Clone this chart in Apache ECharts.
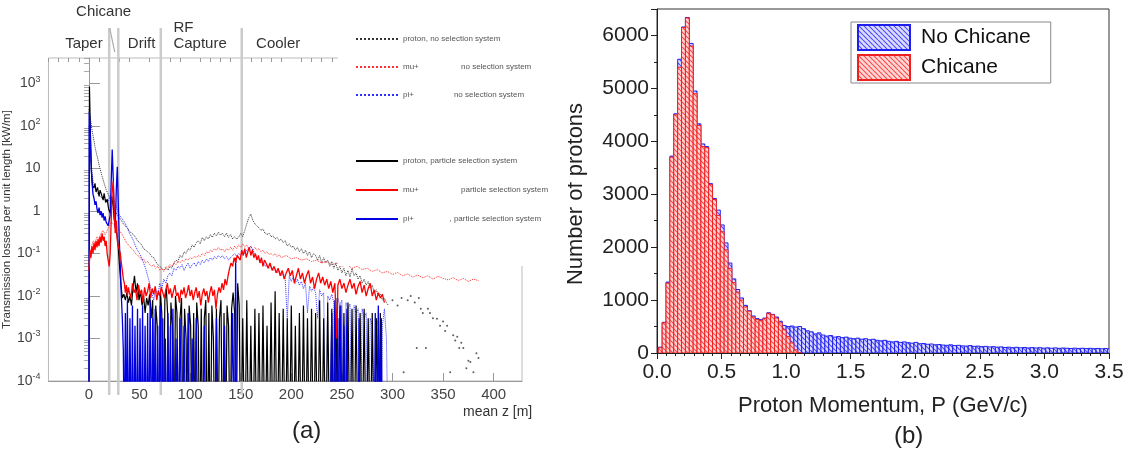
<!DOCTYPE html>
<html><head><meta charset="utf-8">
<script src="https://cdn.jsdelivr.net/npm/echarts@6.0.0/dist/echarts.min.js"></script>
<style>html,body{margin:0;padding:0;background:#fff}#c{width:1131px;height:457px}</style>
</head><body><div id="c"></div><script>
// ---------------- Panel (a) data : [mean z (m), loss (kW/m)] ----------------
const LOW = 1e-6; // value below the axis floor (drawn off the bottom)
const protonNoSel = [[0,250],[1,180],[2,120],[3,80],[4,60],[5,45],[6,32],[7,25],[8,20],[9,16],[10,12],[11,10],[12,8],[13,6.5],[14,5.5],[15,4.5],[16,3.8],[17,3.2],[18,2.8],[19,2.5],[20,2.2],[21,2],[22,1.8],[23,1.6],[24,1.4],[25,1.2],[26,1.0],[27,0.9],[28,0.8],[30,0.7],[32,0.6],[34,0.5],[36,0.44],[38,0.4],[40,0.34],[42,0.3],[44,0.28],[46,0.24],[48,0.2],[50,0.18],[52,0.16],[54,0.13],[56,0.12],[58,0.11],[60,0.1],[62,0.085],[64,0.08],[66,0.065],[68,0.055],[70,0.05],[72,0.045],[74,0.04],[76,0.045],[78,0.04],[80,0.05],[82,0.045],[84,0.06],[86,0.07],[88,0.065],[90,0.09],[92,0.08],[94,0.11],[96,0.1],[98,0.13],[100,0.12],[102,0.16],[104,0.14],[106,0.18],[108,0.2],[110,0.17],[112,0.24],[114,0.2],[116,0.25],[118,0.22],[120,0.28],[122,0.24],[124,0.3],[126,0.26],[128,0.32],[130,0.27],[132,0.3],[134,0.25],[136,0.3],[138,0.24],[140,0.28],[142,0.22],[144,0.25],[146,0.22],[148,0.24],[150,0.3],[152,0.25],[154,0.35],[156,0.5],[158,0.7],[160,0.85],[162,0.6],[164,0.5],[166,0.45],[168,0.4],[170,0.35],[172,0.38],[174,0.3],[176,0.28],[178,0.3],[180,0.25],[182,0.26],[184,0.22],[186,0.24],[188,0.2],[190,0.22],[192,0.18],[194,0.2],[196,0.15],[198,0.17],[200,0.14],[202,0.15],[204,0.12],[206,0.14],[208,0.11],[210,0.13],[212,0.1],[214,0.12],[216,0.09],[218,0.11],[220,0.08],[222,0.1],[224,0.09],[226,0.07],[228,0.09],[230,0.06],[232,0.08],[234,0.06],[236,0.07],[238,0.05],[240,0.065],[242,0.045],[244,0.06],[246,0.04],[248,0.05],[250,0.035],[252,0.045],[254,0.03],[256,0.04],[258,0.028],[260,0.045],[262,0.03],[264,0.035],[266,0.025],[268,0.03],[270,0.02],[272,0.025],[274,0.018],[276,0.022],[278,0.015],[280,0.018],[282,0.012],[284,0.014],[286,0.01],[288,0.011],[290,0.008],[292,0.009],[294,0.007],[296,0.006]];
const protonNoSelTail = [[300,0.008],[305,0.006],[309,0.009],[311,1.6e-4],[315,0.008],[318,0.01],[322,0.007],[324,6e-4],[326,0.009],[328,0.005],[330,0.004],[333,6e-4],[335,0.005],[337,0.004],[340,0.003],[344,0.0029],[347,0.002],[350,0.0025],[352,0.0015],[354,0.002],[357,1.6e-4],[360,0.0012],[362,0.0009],[364,0.0011],[366,0.0006],[368,0.0008],[370,0.0006],[373,2e-4],[375,0.0003],[377,0.00028],[380,1.6e-4],[383,0.00045],[385,0.00035]];
const muNoSel = [[0,0.05],[2,0.12],[4,0.2],[6,0.18],[8,0.25],[10,0.22],[12,0.3],[14,0.35],[16,0.28],[18,0.35],[20,0.45],[22,0.55],[24,0.5],[26,0.45],[28,0.4],[30,0.35],[32,0.3],[34,0.25],[36,0.2],[38,0.17],[40,0.15],[42,0.13],[44,0.12],[46,0.1],[48,0.09],[50,0.085],[52,0.07],[54,0.075],[56,0.06],[58,0.065],[60,0.055],[62,0.05],[64,0.055],[66,0.045],[68,0.05],[70,0.04],[72,0.045],[74,0.038],[76,0.05],[78,0.045],[80,0.055],[82,0.05],[84,0.06],[86,0.055],[88,0.065],[90,0.06],[92,0.07],[94,0.065],[96,0.075],[98,0.07],[100,0.08],[102,0.075],[104,0.085],[106,0.08],[108,0.09],[110,0.085],[112,0.1],[114,0.09],[116,0.11],[118,0.1],[120,0.12],[122,0.11],[124,0.13],[126,0.12],[128,0.14],[130,0.12],[132,0.13],[134,0.11],[136,0.13],[138,0.12],[140,0.14],[142,0.12],[144,0.15],[146,0.13],[148,0.16],[150,0.14],[152,0.17],[154,0.14],[156,0.16],[158,0.13],[160,0.15],[162,0.12],[164,0.14],[166,0.12],[168,0.13],[170,0.11],[172,0.12],[174,0.1],[176,0.11],[178,0.095],[180,0.1],[182,0.09],[184,0.1],[186,0.085],[188,0.095],[190,0.08],[195,0.09],[200,0.075],[205,0.08],[210,0.07],[215,0.075],[220,0.065],[225,0.07],[230,0.06],[235,0.065],[240,0.055],[245,0.06],[250,0.05],[255,0.055],[260,0.045],[265,0.05],[270,0.042],[275,0.045],[280,0.038],[285,0.042],[290,0.035],[295,0.038],[300,0.032],[305,0.036],[310,0.03],[315,0.033],[320,0.028],[325,0.031],[330,0.027],[335,0.03],[340,0.025],[345,0.029],[350,0.026],[355,0.024],[360,0.027],[365,0.023],[370,0.026],[375,0.022],[380,0.025],[385,0.023]];
const piNoSel = [[0,100],[1,40],[2,15],[3,8],[4,5],[5,4],[6,3.5],[7,3],[8,2.8],[9,2.5],[10,2.6],[11,2.2],[12,2.4],[13,2.0],[14,2.2],[15,1.9],[16,2.0],[17,1.8],[18,1.9],[19,1.7],[20,2.0],[21,2.2],[22,2.4],[23,2.2],[24,2.0],[25,1.8],[26,1.5],[27,1.3],[28,1.1],[29,0.9],[30,0.8],[32,0.7],[34,0.6],[36,0.5],[38,0.4],[40,0.3],[42,0.25],[44,0.2],[46,0.15],[48,0.12],[50,0.1],[52,0.08],[54,0.06],[56,0.045],[58,0.03],[60,0.02],[62,0.012],[64,0.008],[66,0.015],[68,0.01],[70,0.02],[72,0.015],[74,0.025],[76,0.02],[78,0.03],[80,0.035],[82,0.03],[84,0.045],[86,0.04],[88,0.05],[90,0.045],[92,0.055],[94,0.04],[96,0.05],[98,0.06],[100,0.045],[102,0.055],[104,0.06],[106,0.05],[108,0.065],[110,0.055],[112,0.07],[114,0.06],[116,0.075],[118,0.065],[120,0.08],[122,0.07],[124,0.085],[126,0.075],[128,0.09],[130,0.08],[132,0.09],[134,0.075],[136,0.085],[138,0.07],[140,0.08],[142,0.09],[144,0.1],[146,0.085],[148,0.1],[150,0.09],[152,0.11],[154,0.1],[156,0.12],[158,0.13],[160,0.15],[162,0.12],[164,0.1],[166,0.08],[168,0.07],[170,0.06],[172,0.065],[174,0.05],[176,0.055],[178,0.045],[180,0.05],[182,0.04],[184,0.045],[186,0.035],[188,0.04],[190,0.03],[192,0.035],[194,0.025],[196,0.003],[198,0.03],[200,0.022],[202,0.028],[204,0.02],[206,0.025],[208,0.018],[210,0.022],[212,0.015],[214,0.02],[216,0.004],[218,0.017],[220,0.013],[222,0.016],[224,0.012],[226,0.003],[228,0.014],[230,0.01],[232,0.012],[234,LOW],[236,0.01],[238,0.008],[240,0.011],[242,0.007],[244,LOW],[246,0.009],[248,0.006],[250,0.008],[252,LOW],[254,0.007],[256,0.005],[258,0.0065],[260,LOW],[262,0.006],[264,0.004],[266,0.005],[268,LOW],[270,0.005],[272,0.003],[274,0.004],[276,LOW],[278,0.003],[280,0.002],[282,LOW],[284,0.003],[286,0.002],[288,LOW],[290,0.002],[292,0.005],[294,0.001],[296,LOW]];
const protonSel = [[-0.1,LOW],[0.5,850],[1.5,60],[2.5,8],[3.5,4],[5,3.5],[6,4.5],[7,2.8],[8.5,3.6],[10,2.2],[11,3.1],[12.5,2.4],[14,1.8],[15,2.6],[16.5,1.6],[18,1.9],[19.5,1.1],[21,0.9],[22.5,2.2],[24,1.3],[25.5,0.5],[27,0.35],[28.5,0.2],[30,0.06],[31.5,0.02],[33,0.009],[34.5,0.011],[36,0.008],[37.5,0.012],[39,0.007],[40.5,0.01],[42,0.006],[43.5,0.015],[45,0.03],[46.5,0.012],[48,0.02],[49.5,0.008],[51,0.013],[52.5,0.006],[54,0.01],[55.5,0.004],[57,0.009],[58.5,0.006],[60,0.011],[61.5,0.003],[63,0.008],[64.5,LOW],[66,0.006],[67.5,0.002],[69,LOW],[70.5,0.012],[72,0.004],[73.5,LOW],[75,0.008],[76.5,0.015],[78,0.003],[79.5,LOW],[81,0.007],[82.5,0.002],[84,LOW],[85.5,0.01],[87,0.004],[88.5,LOW],[90,0.003],[91.5,0.009],[93,LOW],[94.5,0.005],[96,0.001],[97.5,LOW],[99,0.006],[100.5,0.002],[102,LOW],[103.5,0.004],[105,LOW],[106.5,0.007],[108,0.002],[109.5,LOW],[111,0.005],[112.5,LOW],[114,0.003],[115.5,0.008],[117,LOW],[118.5,0.004],[120,LOW],[121.5,0.006],[123,0.001],[124.5,LOW],[126,0.005],[127.5,LOW],[129,0.003],[130.5,0.008],[132,LOW],[133.5,0.004],[135,LOW],[136.5,0.006],[138,0.002],[139.5,LOW],[141,0.005],[142.5,0.012],[144,0.004],[145.5,LOW],[147,0.02],[148.5,0.006],[150,LOW],[152,0.003],[154,LOW],[156,0.008],[158,LOW],[160,0.002],[162,LOW],[164,0.005],[166,LOW],[168,0.004],[170,LOW],[172,0.006],[174,LOW],[176,0.002],[178,LOW],[180,0.007],[182,LOW],[184,0.013],[186,LOW],[188,0.004],[190,LOW],[192,0.005],[194,LOW],[196,0.003],[198,LOW],[200,0.006],[202,LOW],[204,0.002],[206,LOW],[208,0.004],[210,LOW],[212,0.006],[214,LOW],[216,0.003],[218,LOW],[220,0.005],[222,LOW],[224,0.004],[226,LOW],[228,0.008],[230,LOW],[232,0.003],[234,LOW],[236,0.007],[238,LOW],[240,0.005],[242,LOW],[244,0.009],[246,LOW],[248,0.006],[250,LOW],[252,0.004],[254,LOW],[256,0.007],[258,LOW],[260,0.005],[262,LOW],[264,0.006],[266,LOW],[268,0.004],[270,LOW],[272,0.005],[274,LOW],[276,0.003],[278,LOW],[280,0.004],[282,LOW],[284,0.003],[286,LOW],[288,0.004],[290,LOW]];
const piSel = [[-0.1,LOW],[0.3,220],[1,120],[2,15],[3,5],[4,2.5],[5,2.0],[6,1.4],[7,1.7],[8,1.1],[9,0.9],[10,1.2],[11,0.8],[12,1.0],[13,0.7],[14,0.9],[15,0.6],[16,0.75],[17,0.55],[18,0.6],[19,0.45],[20,0.5],[21,0.8],[22,5],[23,28],[24,6],[25,0.7],[26,0.4],[27,3],[28,11],[29,1.5],[30,0.2],[31,0.05],[32,0.01],[33,0.003],[34,5e-4],[35,LOW],[36,0.004],[37,LOW],[38,0.008],[39,LOW],[40.5,0.003],[42,LOW],[43,0.006],[44,LOW],[45.5,0.002],[47,LOW],[48,0.005],[49,LOW],[50.5,0.003],[52,LOW],[53,0.006],[54,LOW],[55.5,0.002],[57,LOW],[58,0.004],[59,LOW],[60.5,0.008],[62,LOW],[63,0.003],[64,LOW],[65.5,0.005],[67,LOW],[68,0.002],[69,LOW],[70.5,0.006],[72,LOW],[73,0.003],[74,LOW],[75.5,0.001],[77,LOW],[78,0.004],[79,LOW],[80.5,0.002],[82,LOW],[83,0.005],[84,LOW],[86,0.001],[88,LOW],[90,0.003],[92,LOW],[94,0.002],[96,LOW],[98,0.004],[100,LOW],[102,0.001],[104,LOW],[106,0.003],[108,LOW],[112,LOW],[114,0.002],[116,LOW],[124,LOW],[126,0.003],[128,LOW],[132,LOW],[134,0.002],[136,LOW],[140,LOW],[142,0.004],[144,LOW],[145,0.08],[146,LOW],[238,LOW],[240,0.004],[241,LOW],[243,0.008],[244,LOW],[246,0.003],[247,LOW],[249,0.006],[250,LOW],[252,0.002],[253,LOW],[255,0.005],[256,LOW],[266,LOW],[267,0.003],[268,LOW],[282,LOW],[283,0.004],[284,LOW],[286,0.006],[287,LOW],[289,0.003],[290,LOW]];
const muSel = [[0,0.04],[1,0.12],[2,0.08],[3,0.15],[4,0.1],[5,0.18],[6,0.12],[7,0.2],[8,0.14],[9,0.22],[10,0.15],[11,0.25],[12,0.18],[13,0.3],[14,0.2],[15,0.25],[16,0.15],[17,0.2],[18,0.1],[19,0.07],[20,0.05],[21,0.1],[22,0.6],[23,3],[24,5],[25,1],[26,0.3],[27,0.6],[28,0.2],[29,0.15],[30,0.12],[31,0.1],[32,0.06],[33,0.04],[34,0.025],[35,0.02],[36,0.012],[37,0.018],[38,0.01],[39,0.016],[40,0.012],[41.5,0.009],[43,0.02],[44.5,0.012],[46,0.015],[47.5,0.008],[49,0.018],[50.5,0.011],[52,0.014],[53.5,0.007],[55,0.016],[56.5,0.01],[58,0.013],[59.5,0.02],[61,0.009],[62.5,0.015],[64,0.011],[65.5,0.017],[67,0.008],[68.5,0.013],[70,0.01],[71.5,0.016],[73,0.012],[74.5,0.009],[76,0.014],[77.5,0.02],[79,0.011],[80.5,0.015],[82,0.009],[83.5,0.013],[85,0.018],[86.5,0.01],[88,0.012],[89.5,0.007],[91,0.014],[92.5,0.011],[94,0.016],[95.5,0.009],[97,0.012],[98.5,0.018],[100,0.01],[101.5,0.014],[103,0.008],[104.5,0.012],[106,0.016],[107.5,0.009],[109,0.013],[110.5,0.006],[112,0.011],[113.5,0.015],[115,0.01],[116.5,0.013],[118,0.007],[119.5,0.012],[121,0.017],[122.5,0.01],[124,0.014],[125.5,0.005],[127,0.011],[128.5,0.016],[130,0.012],[131.5,0.02],[133,0.014],[134.5,0.025],[136,0.018],[137.5,0.03],[139,0.045],[140.5,0.06],[142,0.05],[143.5,0.08],[145,0.06],[146.5,0.09],[148,0.1],[149.5,0.07],[151,0.12],[152.5,0.09],[154,0.13],[155.5,0.08],[157,0.11],[158.5,0.14],[160,0.09],[161.5,0.12],[163,0.08],[164.5,0.1],[166,0.07],[167.5,0.09],[169,0.06],[170.5,0.08],[172,0.05],[173.5,0.07],[175,0.06],[177,0.045],[179,0.06],[181,0.04],[183,0.05],[185,0.035],[187,0.045],[189,0.03],[191,0.04],[193,0.025],[195,0.035],[197,0.045],[199,0.03],[201,0.04],[203,0.02],[205,0.03],[207,0.045],[209,0.025],[211,0.035],[213,0.02],[215,0.03],[217,0.04],[219,0.02],[221,0.028],[223,0.015],[225,0.025],[227,0.035],[229,0.02],[231,0.028],[233,0.018],[235,0.025],[237,0.015],[239,0.022],[241,0.012],[243,0.02],[245,0.001],[246,0.018],[248,0.025],[250,0.015],[252,0.02],[254,0.012],[256,0.018],[258,0.025],[260,0.015],[262,0.02],[264,0.011],[266,0.017],[268,0.022],[270,0.012],[272,0.018],[274,0.01],[276,0.015],[278,0.02],[280,0.01],[282,0.014],[284,0.008],[286,0.012],[288,0.009],[290,0.011],[292,0.007]];

const legendNamesA = ['proton, no selection system', 'mu+                   no selection system', 'pi+                  no selection system'];
const legendNamesB = ['proton, particle selection system', 'mu+                   particle selection system', 'pi+                , particle selection system'];

const xTicksA = [0, 50, 100, 150, 200, 250, 300, 350, 400];
const xMinorA = [-40,-30,-20,-10,10,20,30,40,60,70,80,90,110,120,130,140,160,170,180,190,210,220,230,240,260,270,280,290,310,320,330,340,360,370,380,390,410,420];
const yTicksA = [1e-4, 1e-3, 1e-2, 1e-1, 1, 10, 100, 1000];

const regionEdges = [20, 29, 71, 151];
const regionLabels = ['Taper', 'Drift', 'RF', 'Capture', 'Cooler', 'Chicane'];
const regionLabelZ = [-5, 52, 83.5, 83.5, 187, 14.5];
const chicaneSlashZ = [20.5, 25.5];

// ---------------- Panel (b) data : histogram counts ----------------
const BIN_START = 0.01, BIN_W = 0.03;
const noChicaneCounts = [110,580,1340,3720,4520,5550,6160,6340,5850,4950,
 4330,3950,3900,3200,2920,2700,2420,2080,1700,1400,
 1200,1040,900,800,700,650,630,660,760,730,
 680,600,520,500,510,490,500,460,420,400,
 360,380,340,320,330,300,310,290,300,280,
 270,280,260,270,250,260,240,230,240,220,
 210,220,200,210,195,185,200,175,180,165,
 170,155,160,150,145,155,140,145,135,130,
 140,125,130,120,125,115,120,110,115,105,
 110,100,108,98,104,96,102,95,100,92,
 98,90,96,88,94,90,85,92,86,90,
 84,88,82,86,80,84,80];
const chicaneCounts = [100,570,1320,3700,4500,5400,6150,6330,5800,4900,
 4300,3900,3880,3180,2900,2600,2290,1950,1600,1330,
 1150,1000,870,790,680,630,610,650,750,720,
 660,570,440,310,190,60,10];

const FONT = 'Liberation Sans, Arial, sans-serif';

function hatch(line, bg) {
  const c = document.createElement('canvas'); c.width = 5; c.height = 5;
  const g = c.getContext('2d');
  g.fillStyle = bg; g.fillRect(0, 0, 5, 5);
  g.strokeStyle = line; g.lineWidth = 1.1;
  g.beginPath();
  for (let k = -5; k <= 5; k += 5) { g.moveTo(k, 0); g.lineTo(k + 5, 5); }
  g.stroke();
  return c;
}
const redFill = { image: hatch('#ff4a4a', '#ffd6d6'), repeat: 'repeat' };
const blueFill = { image: hatch('#4a4aff', '#dcdcff'), repeat: 'repeat' };

function toBins(counts) {
  return counts.map((c, i) => [BIN_START + i * BIN_W, BIN_START + (i + 1) * BIN_W, c]);
}
function histRender(params, api) {
  const a = api.coord([api.value(0), api.value(2)]);
  const b = api.coord([api.value(1), 0]);
  return { type: 'rect', shape: { x: a[0], y: a[1], width: b[0] - a[0], height: b[1] - a[1] }, style: api.style() };
}

function lineSeries(name, data, color, width, type, z) {
  return { name, type: 'line', data, xAxisIndex: 0, yAxisIndex: 0, symbol: 'none', showSymbol: false,
    clip: true, z, lineStyle: { color, width, type }, itemStyle: { color }, animation: false };
}

const chart = echarts.init(document.getElementById('c'), null, { renderer: 'canvas' });
const supFmt = v => { const e = Math.round(Math.log10(v)); if (e === 0) return '1'; if (e === 1) return '10'; return '{b|10}{s|' + e + '}'; };
const legendA = { orient: 'vertical', itemWidth: 42, itemHeight: 10, z: 120, selectedMode: false,
  itemStyle: { opacity: 0, borderWidth: 0 },
  textStyle: { fontSize: 8, color: '#555', fontFamily: FONT } };

chart.setOption({
  animation: false,
  textStyle: { fontFamily: FONT },
  grid: [
    { left: 48, top: 58, width: 474, height: 323, show: true, borderColor: '#bbb', borderWidth: 1, backgroundColor: '#fff' },
    { left: 657, top: 9, width: 452, height: 344, show: true, borderColor: '#333', borderWidth: 1 }
  ],
  xAxis: [
    { type: 'value', gridIndex: 0, min: -40, max: 428, splitLine: { show: false },
      axisLine: { lineStyle: { color: '#999' } },
      axisTick: { inside: true, length: 8, customValues: xTicksA, lineStyle: { color: '#999' } },
      axisLabel: { customValues: xTicksA, fontSize: 15, color: '#444', margin: 6, fontFamily: FONT } },
    { type: 'value', gridIndex: 0, min: -40, max: 428, splitLine: { show: false },
      axisLine: { show: false },
      axisTick: { inside: true, length: 4, customValues: xMinorA, lineStyle: { color: '#999' } },
      axisLabel: { show: false } },
    { type: 'value', gridIndex: 1, min: 0, max: 3.5, interval: 0.5, splitLine: { show: false },
      axisLine: { lineStyle: { color: '#222' } },
      axisTick: { length: 6, lineStyle: { color: '#222' } },
      minorTick: { show: true, splitNumber: 7, length: 3, lineStyle: { color: '#222' } },
      axisLabel: { fontSize: 21, color: '#222', margin: 9, formatter: v => v.toFixed(1), fontFamily: FONT },
      name: 'Proton Momentum, P (GeV/c)', nameLocation: 'middle', nameGap: 42,
      nameTextStyle: { fontSize: 22, color: '#222', fontFamily: FONT } }
  ],
  yAxis: [
    { type: 'log', logBase: 10, gridIndex: 0, min: 1e-4, max: 4000, splitLine: { show: false },
      axisLine: { show: true, lineStyle: { color: '#999' } },
      axisTick: { inside: true, length: 11, customValues: yTicksA, lineStyle: { color: '#999' } },
      minorTick: { show: false },
      axisLabel: { customValues: yTicksA, formatter: supFmt, margin: 8, color: '#444', fontSize: 14, fontFamily: FONT,
        rich: { b: { fontSize: 14, color: '#444', fontFamily: FONT, lineHeight: 18 },
                s: { fontSize: 9, color: '#444', fontFamily: FONT, lineHeight: 18, verticalAlign: 'top', padding: [0, 0, 6, 0] } } },
      name: 'Transmission losses per unit length [kW/m]', nameLocation: 'middle', nameGap: 30,
      nameTextStyle: { fontSize: 11.5, color: '#333', fontFamily: FONT } },
    { type: 'log', logBase: 10, gridIndex: 0, min: 1e-4, max: 4000, splitLine: { show: false },
      axisLine: { show: false }, axisLabel: { show: false }, minorTick: { show: false },
      axisTick: { inside: true, length: 5, lineStyle: { color: '#aaa' },
        customValues: [2e-4,3e-4,4e-4,5e-4,6e-4,7e-4,8e-4,9e-4,2e-3,3e-3,4e-3,5e-3,6e-3,7e-3,8e-3,9e-3,2e-2,3e-2,4e-2,5e-2,6e-2,7e-2,8e-2,9e-2,0.2,0.3,0.4,0.5,0.6,0.7,0.8,0.9,2,3,4,5,6,7,8,9,20,30,40,50,60,70,80,90,200,300,400,500,600,700,800,900,2000,3000,4000] } },
    { type: 'value', gridIndex: 1, min: 0, max: 6500, interval: 1000, splitLine: { show: false },
      axisLine: { show: true, lineStyle: { color: '#222' } },
      axisTick: { length: 6, lineStyle: { color: '#222' } },
      minorTick: { show: true, splitNumber: 2, length: 3, lineStyle: { color: '#222' } },
      axisLabel: { fontSize: 21, color: '#222', margin: 8, showMaxLabel: false, fontFamily: FONT, formatter: v => String(v) },
      name: 'Number of protons', nameLocation: 'middle', nameGap: 70,
      nameTextStyle: { fontSize: 22, color: '#222', fontFamily: FONT, padding: [0, 26, 0, 0] } }
  ],
  legend: [
    Object.assign({ left: 350, top: 30, itemGap: 20, data: legendNamesA }, legendA),
    Object.assign({ left: 350, top: 152, itemGap: 21, data: legendNamesB }, legendA),
    { left: 851, top: 22, orient: 'vertical', itemGap: 3, itemWidth: 52, itemHeight: 25, z: 120,
      padding: [2, 20, 2, 6], borderColor: '#888', borderWidth: 1, backgroundColor: '#fff', icon: 'rect',
      textStyle: { fontSize: 21, color: '#111', fontFamily: FONT, padding: [0, 0, 0, 6] },
      data: ['No Chicane', 'Chicane'], selectedMode: false }
  ],
  graphic: [
    { type: 'rect', left: 338, top: 14, shape: { width: 230, height: 252 }, style: { fill: '#fff' }, z: 100, silent: true },
    { type: 'text', left: 463, top: 405, style: { text: 'mean z [m]', fontSize: 14, fill: '#333', fontFamily: FONT }, z: 100 },
    { type: 'text', left: 292, top: 419, style: { text: '(a)', fontSize: 24, fill: '#222', fontFamily: FONT }, z: 100 },
    { type: 'text', left: 894, top: 424, style: { text: '(b)', fontSize: 24, fill: '#222', fontFamily: FONT }, z: 100 }
  ],
  series: [
    { type: 'custom', xAxisIndex: 0, yAxisIndex: 0, silent: true, clip: false, z: 1,
      data: regionEdges.map(z => [z, 1]), encode: { x: 0, y: 1 },
      renderItem: (params, api) => {
        const cs = params.coordSys; const x = api.coord([api.value(0), 1])[0];
        return { type: 'line', shape: { x1: x, y1: cs.y - 30, x2: x, y2: cs.y + cs.height + 14 }, style: { stroke: '#cbcbcb', lineWidth: 2.5 } };
      } },
    { type: 'custom', xAxisIndex: 0, yAxisIndex: 0, silent: true, clip: false, z: 1,
      data: regionLabelZ.map(z => [z, 1]), encode: { x: 0, y: 1 },
      renderItem: (params, api) => {
        const cs = params.coordSys; const i = params.dataIndex;
        const x = api.coord([api.value(0), 1])[0];
        const rows = [-14, -14, -30, -14, -14, -46];
        const aligns = ['center', 'center', 'left', 'left', 'center', 'center'];
        const children = [{ type: 'text', x: x, y: cs.y + rows[i], style: { text: regionLabels[i], fill: '#333', fontSize: 15, fontFamily: FONT, align: aligns[i], verticalAlign: 'middle' } }];
        if (regionLabels[i] === 'Chicane') {
          const p1 = api.coord([chicaneSlashZ[0], 1])[0], p2 = api.coord([chicaneSlashZ[1], 1])[0];
          children.push({ type: 'line', shape: { x1: p1, y1: cs.y - 30, x2: p2, y2: cs.y - 6 }, style: { stroke: '#aaa', lineWidth: 1.2 } });
        }
        return { type: 'group', children };
      } },
    lineSeries(legendNamesA[0], protonNoSel, '#333', 1, 'dotted', 3),
    { name: legendNamesA[0], type: 'scatter', data: protonNoSelTail, xAxisIndex: 0, yAxisIndex: 0, symbolSize: 2, itemStyle: { color: '#333' }, z: 3 },
    lineSeries(legendNamesA[1], muNoSel, '#ff3030', 1, 'dotted', 3),
    lineSeries(legendNamesA[2], piNoSel, '#3030ff', 1, 'dotted', 3),
    lineSeries(legendNamesB[0], protonSel, '#000', 1.2, 'solid', 4),
    lineSeries(legendNamesB[2], piSel, '#0000e0', 1.3, 'solid', 4),
    lineSeries(legendNamesB[1], muSel, '#ff0000', 1.3, 'solid', 5),
    { name: 'No Chicane', type: 'custom', xAxisIndex: 2, yAxisIndex: 2, clip: true, z: 2,
      data: toBins(noChicaneCounts), encode: { x: [0, 1], y: 2 }, renderItem: histRender,
      itemStyle: { color: blueFill, borderColor: '#2020ee', borderWidth: 1 } },
    { name: 'Chicane', type: 'custom', xAxisIndex: 2, yAxisIndex: 2, clip: true, z: 3,
      data: toBins(chicaneCounts), encode: { x: [0, 1], y: 2 }, renderItem: histRender,
      itemStyle: { color: redFill, borderColor: '#ee2020', borderWidth: 1 } }
  ]
});
</script></body></html>
